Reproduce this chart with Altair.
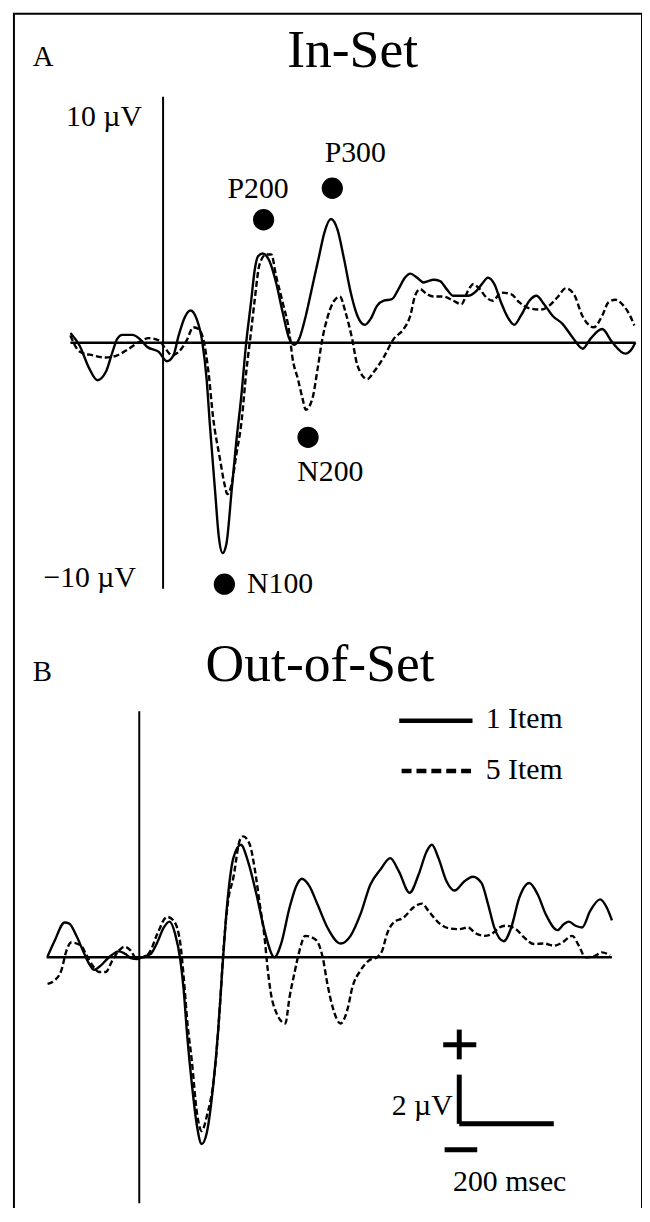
import altair as alt
import pandas as pd

# ---------------- data: (time in ms, amplitude in µV) ----------------
A_SOLID = [(-196, 0.40), (-177, -0.10), (-156, -1.05), (-139, -1.52), (-121, -1.18), (-107, -0.37),
           (-97, 0.16), (-86, 0.32), (-65, 0.32), (-47, 0.11), (-34, -0.16), (-9, -0.37), (8, -0.75),
           (22, -0.51), (33, 0.30), (46, 1.04), (58, 1.31), (71, 0.97), (83, 0.03), (92, -1.45),
           (99, -3.33), (110, -6.02), (118, -7.90), (126, -8.55), (134, -8.17), (145, -6.02),
           (155, -4.00), (165, -2.26), (176, 0.03), (186, 1.64), (194, 2.98), (201, 3.52), (211, 3.63),
           (225, 3.32), (239, 2.45), (253, 1.24), (267, 0.16), (278, -0.08), (288, 0.16), (302, 1.10),
           (316, 2.31), (330, 3.52), (341, 4.46), (355, 5.03), (369, 4.60), (383, 3.39), (397, 2.04),
           (411, 1.10), (427, 0.73), (439, 0.97), (453, 1.51), (467, 1.71), (484, 1.77), (498, 2.18),
           (512, 2.65), (523, 2.81), (537, 2.65), (551, 2.45), (561, 2.51), (572, 2.56), (586, 2.51),
           (600, 2.18), (614, 1.91), (645, 1.91), (663, 2.11), (677, 2.45), (687, 2.65), (701, 2.38),
           (715, 1.64), (729, 1.04), (743, 0.73), (757, 1.10), (775, 1.71), (790, 1.91), (806, 1.57),
           (824, 1.10), (845, 0.77), (866, 0.23), (888, -0.24), (904, 0.16), (929, 0.56), (950, 0.03),
           (978, -0.44), (992, -0.24), (999, 0.0)]

A_DASHED = [(-196, 0.30), (-177, -0.35), (-149, -0.51), (-121, -0.60), (-97, -0.51), (-72, -0.24),
            (-51, 0.03), (-30, 0.19), (-9, 0.10), (5, -0.24), (19, -0.51), (33, -0.37), (50, 0.10),
            (64, 0.63), (75, 0.56), (85, 0.16), (96, -1.18), (106, -3.06), (120, -4.68), (130, -5.75),
            (136, -6.15), (145, -5.75), (155, -4.54), (166, -3.20), (176, -1.18), (186, 0.43),
            (194, 1.77), (204, 3.18), (218, 3.59), (229, 3.59), (239, 2.72), (253, 1.64), (267, 0.43),
            (274, -0.64), (285, -1.45), (295, -2.26), (302, -2.72), (316, -2.26), (327, -1.05),
            (337, 0.16), (348, 1.04), (362, 1.71), (374, 1.88), (386, 1.24), (400, 0.16), (411, -0.91),
            (432, -1.48), (446, -1.18), (467, -0.58), (488, 0.16), (509, 0.56), (523, 1.10), (533, 1.91),
            (544, 2.18), (558, 1.98), (572, 1.88), (593, 1.88), (614, 1.71), (631, 1.57), (645, 2.11),
            (656, 2.38), (670, 2.18), (684, 1.84), (698, 1.71), (715, 2.04), (736, 1.98), (754, 1.64),
            (775, 1.40), (799, 1.35), (817, 1.51), (834, 1.84), (852, 2.21), (869, 1.98), (887, 1.10),
            (911, 0.63), (929, 1.10), (942, 1.64), (957, 1.75), (974, 1.51), (988, 1.10), (997, 0.70)]

B_SOLID = [(-194, 0.03), (-179, 0.67), (-158, 1.41), (-148, 1.37), (-133, 0.87), (-116, 0.13),
           (-106, -0.27), (-95, -0.51), (-81, -0.33), (-64, 0.0), (-43, 0.24), (-29, 0.13), (-18, -0.03),
           (-4, -0.07), (10, 0.03), (24, 0.13), (38, 0.60), (52, 1.21), (64, 1.45), (76, 0.94),
           (87, -0.13), (94, -1.34), (101, -3.09), (111, -5.11), (122, -6.85), (132, -7.59), (143, -7.12),
           (157, -5.11), (167, -2.96), (176, -0.40), (183, 1.48), (192, 3.23), (199, 4.03), (215, 4.57),
           (230, 3.90), (248, 2.55), (265, 1.08), (286, 0.0), (300, 0.54), (318, 2.02), (332, 2.89),
           (344, 3.19), (360, 2.89), (377, 2.15), (398, 1.21), (426, 0.56), (447, 0.87), (468, 1.75),
           (489, 2.96), (510, 3.56), (531, 4.03), (549, 3.50), (572, 2.62), (591, 3.36), (608, 4.30),
           (619, 4.57), (633, 4.03), (650, 3.09), (667, 2.71), (688, 3.09), (706, 3.27), (724, 3.02),
           (738, 2.15), (751, 1.21), (771, 0.65), (787, 1.21), (804, 2.42), (825, 3.02), (843, 2.55),
           (860, 1.75), (885, 1.10), (898, 1.34), (909, 1.45), (923, 1.28), (937, 1.21), (954, 1.88),
           (975, 2.35), (989, 2.02), (1000, 1.50)]

B_DASHED = [(-194, -1.08), (-179, -0.94), (-165, -0.54), (-154, 0.27), (-144, 0.60), (-123, 0.47),
            (-113, 0.13), (-99, -0.33), (-85, -0.60), (-71, -0.60), (-57, -0.13), (-43, 0.27),
            (-32, 0.43), (-18, 0.27), (-8, 0.0), (10, 0.0), (24, 0.27), (38, 0.94), (59, 1.64),
            (73, 1.48), (87, 0.54), (94, -0.81), (102, -2.69), (111, -4.17), (122, -6.32), (132, -7.06),
            (143, -6.45), (160, -4.57), (171, -1.88), (178, 0.27), (188, 2.29), (199, 3.23), (213, 4.77),
            (220, 4.91), (234, 4.57), (244, 3.63), (255, 2.15), (265, 0.81), (272, -0.54), (283, -1.88),
            (309, -2.69), (318, -1.61), (328, -0.67), (339, 0.27), (351, 0.87), (374, 0.70), (388, 0.0),
            (398, -1.08), (409, -2.02), (426, -2.69), (440, -2.15), (451, -1.21), (468, -0.54),
            (486, -0.13), (503, 0.0), (514, 0.27), (524, 0.94), (538, 1.41), (559, 1.61), (580, 2.02),
            (598, 2.18), (612, 1.88), (633, 1.41), (654, 1.18), (675, 1.14), (696, 1.21), (709, 1.01),
            (730, 0.87), (745, 0.94), (762, 1.21), (776, 1.28), (797, 1.14), (814, 0.81), (835, 0.54),
            (856, 0.56), (877, 0.47), (895, 0.60), (916, 0.87), (930, 0.47), (944, 0.0), (961, 0.03),
            (979, 0.20), (996, 0.07)]

EPOCH = (-196, 1000)          # ms, extent of the baseline
AXIS_RANGE = (-10, 10)        # µV, extent of the vertical axis line

# component markers in panel A: (label, t, v)
A_DOTS = [("P200", 212.6, 5.0), ("P300", 358.0, 6.28), ("N200", 306.7, -3.84), ("N100", 129.7, -9.81)]
# component labels in panel A: (text, t, v, align)
A_LABELS = [("P200", 201.0, 5.88, "center"), ("P300", 406.6, 7.33, "center"),
            ("N200", 354.0, -5.62, "center"), ("N100", 177.8, -10.17, "left")]
# amplitude labels in panel A
A_UV_LABELS = [("10 µV", -44.7, 8.83), ("\u221210 µV", -57.3, -9.92)]

# legend of panel B: (text, t_start, t_end, v, dashed)
LEGEND = [("1 Item", 550, 705, 9.61, False), ("5 Item", 555, 705, 7.57, True)]
LEGEND_TEXT_T = 733
LEGEND_TEXT_DV = -0.31

# calibration bar (panel B): 2 µV by 200 ms
CAL_T = 677
CAL_V = -6.77
CAL_DV = 2
CAL_DT = 200

# ---------------- layout constants (pixels) ----------------
FRAME_LEFT, FRAME_TOP, FRAME_RIGHT = 14, 9, 647
W = FRAME_RIGHT - FRAME_LEFT
H = 1225                      # frame runs past the bottom of the page
SVG_BOTTOM = 1208             # page y where the drawing is cut off
PX_PER_MS = 0.4764
PX_PER_UV = 24.8
A_ORIGIN = (164.3, 340.7)
B_ORIGIN = (140.3, 960.0)
SERIF = "Liberation Serif"


def make_scales(origin):
    ox = origin[0] - FRAME_LEFT
    oy = origin[1] - FRAME_TOP
    xs = alt.Scale(domain=[-ox / PX_PER_MS, (W - ox) / PX_PER_MS], nice=False, zero=False)
    ys = alt.Scale(domain=[-(H - oy) / PX_PER_UV, oy / PX_PER_UV], nice=False, zero=False)
    return xs, ys


def enc(xs, ys, x="t", y="v"):
    return dict(x=alt.X(f"{x}:Q", scale=xs, axis=None), y=alt.Y(f"{y}:Q", scale=ys, axis=None))


def text_layer(df, xs, ys, size, align):
    return alt.Chart(df).mark_text(font=SERIF, fontSize=size, align=align, baseline="alphabetic",
                                   color="black").encode(**enc(xs, ys), text="text:N")


def panel(solid, dashed, origin, letter, letter_pos, title, title_pos):
    xs, ys = make_scales(origin)
    s_df = pd.DataFrame(solid, columns=["t", "v"])
    d_df = pd.DataFrame(dashed, columns=["t", "v"])
    base_df = pd.DataFrame({"t": [EPOCH[0]], "t2": [EPOCH[1]], "v": [0]})
    vax_df = pd.DataFrame({"t": [0], "v": [AXIS_RANGE[0]], "v2": [AXIS_RANGE[1]]})

    baseline = alt.Chart(base_df).mark_rule(color="black", strokeWidth=2.6).encode(
        **enc(xs, ys), x2="t2:Q")
    vaxis = alt.Chart(vax_df).mark_rule(color="black", strokeWidth=2).encode(
        **enc(xs, ys), y2="v2:Q")
    line_d = alt.Chart(d_df).mark_line(color="black", strokeWidth=2.4, strokeDash=[6, 3],
                                       interpolate="monotone").encode(**enc(xs, ys))
    line_s = alt.Chart(s_df).mark_line(color="black", strokeWidth=2.4,
                                       interpolate="monotone").encode(**enc(xs, ys))

    letter_df = pd.DataFrame({"text": [letter], "t": [letter_pos[0]], "v": [letter_pos[1]]})
    title_df = pd.DataFrame({"text": [title], "t": [title_pos[0]], "v": [title_pos[1]]})
    layers = [baseline, vaxis, line_d, line_s,
              text_layer(letter_df, xs, ys, 29, "left"),
              text_layer(title_df, xs, ys, 54, "center")]
    return xs, ys, layers


# ---------- panel A ----------
xa, ya, a_layers = panel(A_SOLID, A_DASHED, A_ORIGIN, "A", (-275.6, 11.24), "In-Set", (401, 11.21))
dots_df = pd.DataFrame(A_DOTS, columns=["text", "t", "v"])
a_layers.append(alt.Chart(dots_df).mark_circle(size=460, color="black", opacity=1).encode(**enc(xa, ya)))
lab_df = pd.DataFrame(A_LABELS, columns=["text", "t", "v", "align"])
for al in ["center", "left"]:
    a_layers.append(text_layer(lab_df[lab_df["align"] == al], xa, ya, 30, al))
uv_df = pd.DataFrame(A_UV_LABELS, columns=["text", "t", "v"])
a_layers.append(text_layer(uv_df, xa, ya, 30, "right"))
panel_a = alt.layer(*a_layers)

# ---------- panel B ----------
xb, yb, b_layers = panel(B_SOLID, B_DASHED, B_ORIGIN, "B", (-225.2, 11.21), "Out-of-Set", (382.6, 11.22))
leg_df = pd.DataFrame(LEGEND, columns=["text", "t", "t2", "v", "dashed"])
b_layers.append(alt.Chart(leg_df[~leg_df["dashed"]]).mark_rule(color="black", strokeWidth=4.5).encode(
    **enc(xb, yb), x2="t2:Q"))
b_layers.append(alt.Chart(leg_df[leg_df["dashed"]]).mark_rule(color="black", strokeWidth=4.5,
                                                               strokeDash=[10, 5]).encode(
    **enc(xb, yb), x2="t2:Q"))
leg_txt = leg_df.assign(t=LEGEND_TEXT_T, v=leg_df["v"] + LEGEND_TEXT_DV)
b_layers.append(text_layer(leg_txt, xb, yb, 30, "left"))

# calibration bar with + / - signs
cal_df = pd.DataFrame({
    "t": [CAL_T, CAL_T, CAL_T - 34, CAL_T, CAL_T - 31],
    "t2": [CAL_T, CAL_T + CAL_DT, CAL_T + 36, CAL_T, CAL_T + 38],
    "v": [CAL_V, CAL_V, -3.56, -2.94, -7.82],
    "v2": [CAL_V + CAL_DV, CAL_V, -3.56, -4.15, -7.82],
})
b_layers.append(alt.Chart(cal_df).mark_rule(color="black", strokeWidth=5).encode(
    **enc(xb, yb), x2="t2:Q", y2="v2:Q"))
cal_txt = pd.DataFrame({"text": ["2 µV"], "t": [CAL_T - 14], "v": [-6.42]})
b_layers.append(text_layer(cal_txt, xb, yb, 30, "right"))
ms_txt = pd.DataFrame({"text": ["200 msec"], "t": [CAL_T - 13], "v": [-9.52]})
b_layers.append(text_layer(ms_txt, xb, yb, 30, "left"))
panel_b = alt.layer(*b_layers)

pad_top = FRAME_TOP - 8
pad_bottom = (SVG_BOTTOM - 8) - pad_top - H   # negative: cuts the frame off at the page bottom

chart = alt.layer(panel_a, panel_b).resolve_scale(x="independent", y="independent").properties(
    width=W, height=H,
    padding={"left": FRAME_LEFT - 8, "top": pad_top, "right": 0, "bottom": pad_bottom},
    background="white",
).configure_view(stroke="black", strokeWidth=2)

chart.save("out.html", embed_options={"renderer": "svg", "actions": False})
